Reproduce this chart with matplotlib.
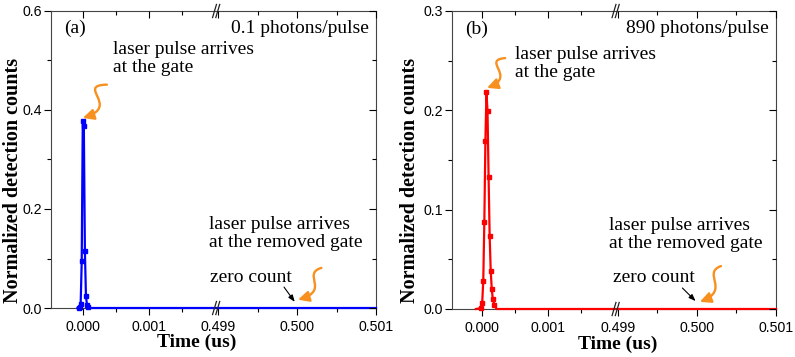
import numpy as np
import matplotlib
matplotlib.use('Agg')
import matplotlib.pyplot as plt
from matplotlib.path import Path
from matplotlib.patches import FancyArrowPatch
from matplotlib.ticker import FixedLocator, FixedFormatter, FormatStrFormatter

plt.rcParams['font.family'] = 'serif'
plt.rcParams['font.serif'] = ['Liberation Serif', 'DejaVu Serif']

# (a) 0.1 photons/pulse
time_a = [-0.00008, -0.000064, -0.000048, -0.000032, -0.000016, 0.0, 0.000016,
          0.000032, 0.000048, 0.000064, 0.00008, 0.0001, 0.002, 0.499, 0.501]
counts_a = [0.0, 0.0, 0.002, 0.0075, 0.094, 0.378, 0.368,
            0.115, 0.024, 0.006, 0.002, 0.0, 0.0, 0.0, 0.0]

# (b) 890 photons/pulse
time_b = [-0.00009, -0.000011, 0.000005, 0.000021, 0.000037, 0.000053, 0.000069,
          0.000085, 0.000101, 0.000117, 0.000133, 0.000149, 0.000165, 0.00019,
          0.00022, 0.002, 0.499, 0.501]
counts_b = [0.0, 0.001, 0.0064, 0.0286, 0.0876, 0.169, 0.218,
            0.199, 0.133, 0.0737, 0.0387, 0.0199, 0.0098, 0.004,
            0.0, 0.0, 0.0, 0.0]

x_major = [0.0, 0.001, 0.499, 0.5, 0.501]
x_major_labels = ['0.000', '0.001', '0.499', '0.500', '0.501']
x_minor = [0.0005, 0.0015, 0.4995, 0.5005]

# broken time axis: [.., 0.002] and [0.499-, 0.501]
CUT_LO = 0.002
CUT_HI = 0.499
GAP = 0.00005
STRETCH = 1.19


def fwd(x):
    x = np.asarray(x, dtype=float)
    return np.where(x < 0.25, x, CUT_LO + GAP + (x - CUT_HI) * STRETCH)


def inv(v):
    v = np.asarray(v, dtype=float)
    return np.where(v <= CUT_LO, v, CUT_HI + (v - CUT_LO - GAP) / STRETCH)


ORANGE = '#f7901e'


def wavy_arrow(ax, p0, p3, c1, c2):
    path = Path([p0, c1, c2, p3], [Path.MOVETO, Path.CURVE4, Path.CURVE4, Path.CURVE4])
    ar = FancyArrowPatch(path=path, arrowstyle='-|>,head_length=6.5,head_width=3.2',
                         color=ORANGE, lw=1.7, transform=ax.transAxes, clip_on=False)
    ax.add_patch(ar)


def panel(pos, t, c, color, xmin, ymax, ystep, letter, photons, xlab_x, ylab_x, mark_idx):
    ax = fig.add_axes(pos)
    ax.set_xscale('function', functions=(fwd, inv))
    ax.plot(t, c, color=color, lw=1.6, marker='s', ms=3.2, markevery=mark_idx,
            clip_on=False, zorder=5)
    ax.set_xlim(xmin, 0.501)
    ax.set_ylim(0, ymax)

    ax.xaxis.set_major_locator(FixedLocator(x_major))
    ax.xaxis.set_major_formatter(FixedFormatter(x_major_labels))
    ax.xaxis.set_minor_locator(FixedLocator(x_minor))
    ax.yaxis.set_major_locator(FixedLocator(np.arange(0, ymax + 1e-9, ystep)))
    ax.yaxis.set_minor_locator(FixedLocator(np.arange(ystep / 2, ymax, ystep)))
    ax.yaxis.set_major_formatter(FormatStrFormatter('%.1f'))
    ax.tick_params(which='both', direction='out', labelsize=10.2,
                   labelfontfamily='Liberation Sans', top=False, right=False)
    ax.tick_params(which='major', length=5, width=0.8)
    ax.tick_params(which='minor', length=3, width=0.8)
    ax.tick_params(axis='x', pad=3.5)
    ax.tick_params(axis='y', pad=1.5)
    for s in ax.spines.values():
        s.set_color('#444444')

    # mirrored ticks on top/right pointing inward
    ov = fig.add_axes(pos, sharex=ax, sharey=ax)
    ov.patch.set_visible(False)
    for s in ov.spines.values():
        s.set_visible(False)
    ov.tick_params(which='both', direction='in', bottom=False, left=False,
                   top=True, right=True, labelbottom=False, labelleft=False)
    ov.tick_params(which='major', length=5, width=0.8)
    ov.tick_params(which='minor', length=3, width=0.8)

    ax.set_xlabel('Time (us)', fontsize=14, fontweight='bold')
    ax.xaxis.set_label_coords(xlab_x, -0.088)
    ax.set_ylabel('Normalized detection counts', fontsize=14.5, fontweight='bold')
    ax.yaxis.set_label_coords(ylab_x, 0.43)

    # break marks
    bx = ax.transAxes.inverted().transform(ax.transData.transform((CUT_LO, 0)))[0]
    bx += 0.004
    for yb in (0.0, 1.0):
        for off in (-0.006, 0.004):
            ax.plot([bx + off - 0.006, bx + off + 0.006], [yb - 0.022, yb + 0.022],
                    color='#222222', lw=0.9, transform=ax.transAxes, clip_on=False,
                    zorder=6)

    ax.text(0.040, 0.94, letter, transform=ax.transAxes, fontsize=14, va='center')
    ax.text(0.978, 0.94, photons, transform=ax.transAxes, fontsize=14, va='center',
            ha='right')
    return ax


fig = plt.figure(figsize=(7.95, 3.57), dpi=100)

axa = panel([51 / 795, 49 / 357, 325 / 795, 297 / 357], time_a, counts_a, 'blue',
            -0.00048, 0.6, 0.2, '(a)', '0.1 photons/pulse', 0.448, -0.085, slice(1, 11))
axa.text(0.19, 0.84, 'laser pulse arrives\nat the gate', transform=axa.transAxes,
         fontsize=14, va='center', linespacing=1.05)
wavy_arrow(axa, (0.172, 0.752), (0.098, 0.640), (0.075, 0.750), (0.215, 0.680))
axa.text(0.486, 0.25, 'laser pulse arrives\nat the removed gate', transform=axa.transAxes,
         fontsize=14, va='center', linespacing=1.05)
axa.text(0.489, 0.104, 'zero count', transform=axa.transAxes, fontsize=14, va='center')
axa.annotate('', xy=(0.755, 0.013), xytext=(0.712, 0.078), xycoords='axes fraction',
             arrowprops=dict(arrowstyle='-|>,head_length=0.4,head_width=0.15',
                             color='black', lw=0.8))
wavy_arrow(axa, (0.832, 0.135), (0.760, 0.028), (0.770, 0.115), (0.860, 0.060))

axb = panel([452 / 795, 48 / 357, 324 / 795, 298 / 357], time_b, counts_b, 'red',
            -0.00045, 0.3, 0.1, '(b)', '890 photons/pulse', 0.51, -0.10, slice(1, 14))
axb.text(0.194, 0.824, 'laser pulse arrives\nat the gate', transform=axb.transAxes,
         fontsize=14, va='center', linespacing=1.05)
wavy_arrow(axb, (0.164, 0.842), (0.108, 0.742), (0.090, 0.835), (0.200, 0.780))
axb.text(0.486, 0.25, 'laser pulse arrives\nat the removed gate', transform=axb.transAxes,
         fontsize=14, va='center', linespacing=1.05)
axb.text(0.497, 0.107, 'zero count', transform=axb.transAxes, fontsize=14, va='center')
axb.annotate('', xy=(0.758, 0.020), xytext=(0.705, 0.077), xycoords='axes fraction',
             arrowprops=dict(arrowstyle='-|>,head_length=0.4,head_width=0.15',
                             color='black', lw=0.8))
wavy_arrow(axb, (0.830, 0.144), (0.765, 0.024), (0.770, 0.120), (0.860, 0.065))

fig.savefig('out.png', dpi=100)
